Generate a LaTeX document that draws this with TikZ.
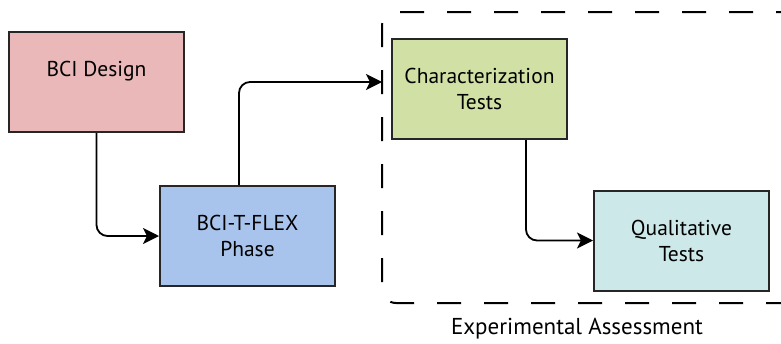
\documentclass[tikz,border=0pt]{standalone}
\usepackage{fontspec}
\setmainfont{PT Sans}
\usetikzlibrary{arrows.meta}
\definecolor{designfill}{RGB}{234,184,184}
\definecolor{flexfill}{RGB}{169,196,236}
\definecolor{charfill}{RGB}{209,225,165}
\definecolor{qualfill}{RGB}{204,232,232}
\begin{document}
\begin{tikzpicture}[x=1pt,y=-1pt,
  box/.style={draw=black!85, line width=2pt, minimum width=175pt, minimum height=100pt,
    inner sep=0pt, align=center, font=\fontsize{21.5}{26}\selectfont},
  txt/.style={inner sep=0pt, align=center, font=\fontsize{21.5}{26}\selectfont},
  link/.style={line width=1.8pt, rounded corners=11pt,
    -{Stealth[length=16pt,width=16pt,inset=4pt]}},
  group/.style={line width=2pt, dash pattern=on 24pt off 23pt, rounded corners=14pt},
]
\useasboundingbox (0,0) rectangle (781,343);

% process boxes
\node[box, fill=designfill] (design) at (96.5,82) {};
\node[txt] (designlabel) at ([yshift=11pt]design.center) {BCI Design};
\node[box, fill=flexfill] (flex) at (247.5,236) {BCI-T-FLEX\\Phase};
\node[box, fill=charfill] (char) at (479.5,89) {Characterization\\Tests};
\node[box, fill=qualfill] (qual) at (681.5,240.5) {Qualitative\\Tests};

% experimental assessment group
\draw[group] (800,12) -- (382,12) -- (382,303) -- (800,303);
\coordinate (entry) at (382,82);
\node[txt, font=\fontsize{23}{26}\selectfont] (grouplabel) at (577,329) {Experimental Assessment};

% connectors
\draw[link] (design.south) |- (flex.west);
\draw[link] ([xshift=-8.5pt]flex.north) |- (entry);
\draw[link] ([xshift=46.5pt]char.south) |- (qual.west);
\end{tikzpicture}
\end{document}
